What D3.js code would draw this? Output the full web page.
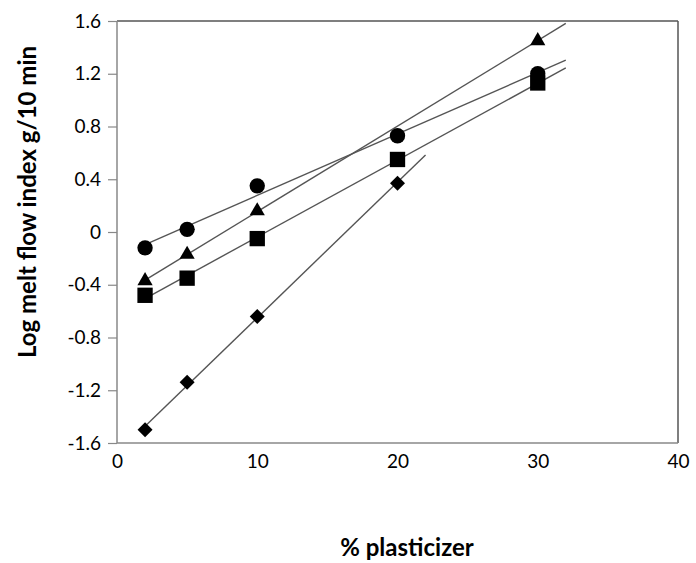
<!DOCTYPE html>
<html>
<head>
<meta charset="utf-8">
<script src="https://cdn.jsdelivr.net/npm/d3@7"></script>
<style>
  body { margin: 0; background: #fff; }
  text { font-family: Lato, "Open Sans", sans-serif; fill: #000; }
</style>
</head>
<body>
<div id="chart"></div>
<script>
// % plasticizer values and the log MFI for each series
var xCircle = [2, 5, 10, 20, 30];
var yCircle = [-0.12, 0.02, 0.35, 0.73, 1.20];
var xTriangle = [2, 5, 10, 30];
var yTriangle = [-0.37, -0.17, 0.16, 1.45];
var xSquare = [2, 5, 10, 20, 30];
var ySquare = [-0.48, -0.35, -0.05, 0.55, 1.13];
var xDiamond = [2, 5, 10, 20];
var yDiamond = [-1.50, -1.14, -0.64, 0.37];

var xTicks = [0, 10, 20, 30, 40];
var yTicks = [-1.6, -1.2, -0.8, -0.4, 0, 0.4, 0.8, 1.2, 1.6];

var series = [
    { name: "triangle", xs: xTriangle, ys: yTriangle, symbol: d3.symbolTriangle, size: 100, rot: 0 },
    { name: "square", xs: xSquare, ys: ySquare, symbol: d3.symbolSquare, size: 235, rot: 0 },
    { name: "diamond", xs: xDiamond, ys: yDiamond, symbol: d3.symbolSquare, size: 112, rot: 45 },
    { name: "circle", xs: xCircle, ys: yCircle, symbol: d3.symbolCircle, size: 185, rot: 0 }
];

var margin = { top: 21, right: 18, bottom: 120, left: 117 };
var width = 696 - margin.left - margin.right;
var height = 563 - margin.top - margin.bottom;

var svg = d3.select("#chart")
    .append("svg")
    .attr("width", 696)
    .attr("height", 563);

var g = svg.append("g")
    .attr("transform", "translate(" + margin.left + "," + margin.top + ")");

var xScale = d3.scaleLinear().domain([0, 40]).range([0, width]);
var yScale = d3.scaleLinear().domain([-1.6, 1.6]).range([height, 0]);

// plot border (top and right darker)
g.append("line").attr("x1", 0).attr("x2", width).attr("y1", 0).attr("y2", 0)
    .attr("stroke", "#555").attr("stroke-width", 1.5);
g.append("line").attr("x1", width).attr("x2", width).attr("y1", 0).attr("y2", height)
    .attr("stroke", "#555").attr("stroke-width", 1.5);

// y axis (Excel style: plain hyphen for negatives)
var yAxis = g.append("g")
    .call(d3.axisLeft(yScale).tickValues(yTicks).tickSize(9).tickPadding(7)
        .tickFormat(function(d) { return d === 0 ? "0" : d3.format(".1f")(d).replace("\u2212", "-"); }));
yAxis.select(".domain").attr("stroke", "#888").attr("stroke-width", 1.5).attr("d", "M0,0V" + height);
yAxis.selectAll(".tick line").attr("stroke", "#888").attr("stroke-width", 1.2);
yAxis.selectAll("text").attr("font-size", "19px").style("font-family", "Lato, 'Open Sans', sans-serif");

// x axis
var xAxis = g.append("g")
    .attr("transform", "translate(0," + height + ")")
    .call(d3.axisBottom(xScale).tickValues(xTicks).tickSize(0).tickPadding(12));
xAxis.select(".domain").attr("stroke", "#888").attr("stroke-width", 1.5).attr("d", "M0,0H" + width);
xAxis.selectAll("text").attr("font-size", "19px").style("font-family", "Lato, 'Open Sans', sans-serif");

// linear trend lines, forward 2 units
function fit(xs, ys) {
    var mx = d3.mean(xs), my = d3.mean(ys);
    var num = d3.sum(xs, function(x, i) { return (x - mx) * (ys[i] - my); });
    var den = d3.sum(xs, function(x) { return (x - mx) * (x - mx); });
    var b = num / den;
    return { b: b, a: my - b * mx };
}

series.forEach(function(s) {
    var f = fit(s.xs, s.ys);
    var x0 = d3.min(s.xs), x1 = d3.max(s.xs) + 2;
    g.append("line")
        .attr("x1", xScale(x0)).attr("y1", yScale(f.a + f.b * x0))
        .attr("x2", xScale(x1)).attr("y2", yScale(f.a + f.b * x1))
        .attr("stroke", "#555").attr("stroke-width", 1.4);
});

series.forEach(function(s) {
    g.selectAll("path." + s.name)
        .data(s.xs.map(function(x, i) { return [x, s.ys[i]]; }))
        .enter()
        .append("path")
        .attr("class", s.name)
        .attr("d", d3.symbol().type(s.symbol).size(s.size))
        .attr("transform", function(d) {
            return "translate(" + xScale(d[0]) + "," + yScale(d[1]) + ") rotate(" + s.rot + ")";
        })
        .attr("fill", "#000");
});

// axis titles
svg.append("text")
    .attr("x", 407)
    .attr("y", 556)
    .attr("text-anchor", "middle")
    .attr("font-size", "24px")
    .attr("font-weight", "bold")
    .text("% plasticizer");

svg.append("text")
    .attr("transform", "translate(36," + 202 + ") rotate(-90)")
    .attr("text-anchor", "middle")
    .attr("font-size", "24px")
    .attr("font-weight", "bold")
    .text("Log melt flow index g/10 min");
</script>
</body>
</html>
